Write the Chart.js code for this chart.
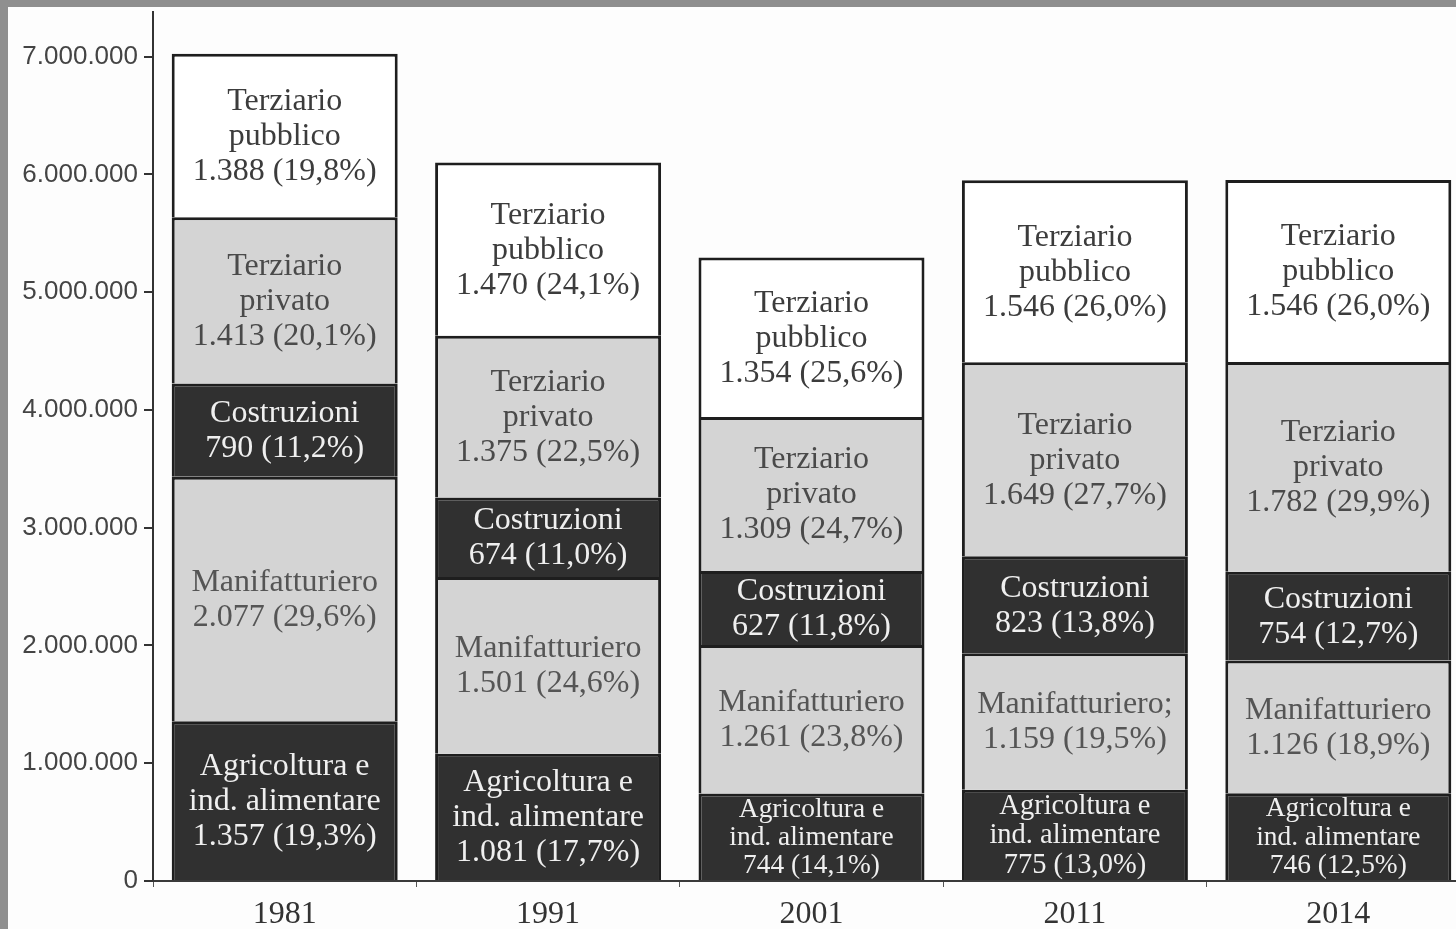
<!DOCTYPE html>
<html lang="it">
<head>
<meta charset="utf-8">
<title>Occupati per settore</title>
<script src="https://cdn.jsdelivr.net/npm/chart.js@4"></script>
<style>
  html, body { margin: 0; padding: 0; overflow: hidden; background: #8f8f8f; }
  body { width: 1456px; height: 929px; position: relative; }
  #wrap { position: absolute; left: 8px; top: 7px; width: 1462px; height: 922px; background: #fdfdfd; overflow: hidden; }
  canvas { display: block; }
</style>
</head>
<body>
<div id="wrap"><canvas id="chart" width="1462" height="922"></canvas></div>
<script>
'use strict';

const years = ['1981', '1991', '2001', '2011', '2014'];
const agricoltura = [1357, 1081, 744, 775, 746];
const manifatturiero = [2077, 1501, 1261, 1159, 1126];
const costruzioni = [790, 674, 627, 823, 754];
const terziarioPrivato = [1413, 1375, 1309, 1649, 1782];
const terziarioPubblico = [1388, 1470, 1354, 1546, 1546];

// Quote percentuali riportate nelle etichette
const pctAgricoltura = [19.3, 17.7, 14.1, 13.0, 12.5];
const pctManifatturiero = [29.6, 24.6, 23.8, 19.5, 18.9];
const pctCostruzioni = [11.2, 11.0, 11.8, 13.8, 12.7];
const pctPrivato = [20.1, 22.5, 24.7, 27.7, 29.9];
const pctPubblico = [19.8, 24.1, 25.6, 26.0, 26.0];

const yTicks = [0, 1000000, 2000000, 3000000, 4000000, 5000000, 6000000, 7000000];

const DARK = '#303030';
const LIGHT = '#d4d4d4';
const WHITE = '#ffffff';
const SERIF = '"Liberation Serif", "DejaVu Serif", serif';

/** Format number with Italian thousands separator. */
const fmtInt = (v) => String(Math.round(v)).replace(/\B(?=(\d{3})+(?!\d))/g, '.');
const fmtPct = (p) => p.toFixed(1).replace('.', ',') + '%';

const series = [
  { label: 'Agricoltura e ind. alimentare', values: agricoltura, pct: pctAgricoltura,
    names: ['Agricoltura e', 'ind. alimentare'], bg: DARK, text: '#efefef' },
  { label: 'Manifatturiero', values: manifatturiero, pct: pctManifatturiero,
    names: ['Manifatturiero'], bg: LIGHT, text: '#555555',
    override: { 3: ['Manifatturiero;'] } },
  { label: 'Costruzioni', values: costruzioni, pct: pctCostruzioni,
    names: ['Costruzioni'], bg: DARK, text: '#efefef' },
  { label: 'Terziario privato', values: terziarioPrivato, pct: pctPrivato,
    names: ['Terziario', 'privato'], bg: LIGHT, text: '#4a4a4a' },
  { label: 'Terziario pubblico', values: terziarioPubblico, pct: pctPubblico,
    names: ['Terziario', 'pubblico'], bg: WHITE, text: '#3c3c3c' },
];

// Draw the multi-line text centred in every segment, shrinking it when the segment is short
const segmentLabels = {
  id: 'segmentLabels',
  afterDatasetsDraw(chart) {
    const ctx = chart.ctx;
    ctx.save();
    ctx.textAlign = 'center';
    ctx.textBaseline = 'middle';
    chart.data.datasets.forEach((ds, di) => {
      const s = series[di];
      chart.getDatasetMeta(di).data.forEach((bar, i) => {
        const { x, y, base } = bar.getProps(['x', 'y', 'base'], true);
        const names = (s.override && s.override[i]) || s.names;
        const lines = [...names, `${fmtInt(s.values[i])} (${fmtPct(s.pct[i])})`];
        const segH = Math.abs(base - y);
        const lineH = Math.min(35, (segH - 2) / lines.length);
        const size = Math.min(32, lineH * 0.97);
        ctx.font = `${size.toFixed(1)}px ${SERIF}`;
        const cy = (y + base) / 2 + 1;
        const start = cy - (lines.length - 1) * lineH / 2;
        ctx.fillStyle = s.text;
        lines.forEach((t, k) => ctx.fillText(t, x, start + k * lineH));
      });
    });
    ctx.restore();
  },
};

new Chart(document.getElementById('chart'), {
  type: 'bar',
  data: {
    labels: years,
    datasets: series.map(s => ({
      label: s.label,
      data: s.values.map(v => v * 1000),
      backgroundColor: s.bg,
      borderColor: '#1e1e1e',
      borderWidth: { top: 3, left: 3, right: 3, bottom: 0 },
      borderSkipped: false,
      barPercentage: 0.858,
      categoryPercentage: 1,
    })),
  },
  options: {
    responsive: false,
    animation: false,
    layout: { padding: { top: 5, left: 0, right: 0, bottom: 0 } },
    plugins: {
      legend: { display: false },
      tooltip: { enabled: false },
    },
    scales: {
      x: {
        stacked: true,
        offset: true,
        afterFit: (scale) => { scale.height = 48; },
        border: { display: true, color: '#3a3a3a', width: 2 },
        grid: { display: true, drawOnChartArea: false, offset: true, tickLength: 6, color: '#555' },
        ticks: { font: { family: SERIF, size: 32 }, color: '#333', padding: 8 },
      },
      y: {
        stacked: true,
        min: 0,
        max: 7380000,
        afterFit: (scale) => { scale.width = 145; scale.paddingTop = 0; scale.paddingBottom = 0; },
        afterBuildTicks: (scale) => { scale.ticks = yTicks.map(v => ({ value: v })); },
        border: { display: true, color: '#333', width: 2 },
        grid: { display: true, drawOnChartArea: false, tickLength: 9, color: '#333', lineWidth: 2 },
        ticks: {
          font: { family: '"Liberation Sans", Arial, sans-serif', size: 26 },
          color: '#444',
          padding: 6,
          callback: (v) => fmtInt(v),
        },
      },
    },
  },
  plugins: [segmentLabels],
});
</script>
</body>
</html>
